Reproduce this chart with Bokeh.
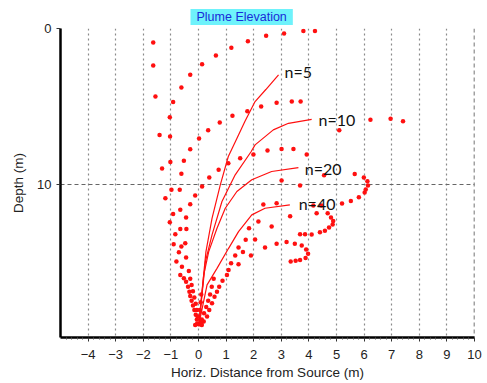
from bokeh.plotting import figure
from bokeh.models import ColumnDataSource, FixedTicker, Span, Range1d
from bokeh.core.properties import value
from bokeh.embed import file_html
from bokeh.resources import INLINE
import numpy as np

# ---- data ----
x_ticks = list(range(-4, 11))
y_ticks = [0, 10]

dot_x = [-1.64, -1.64, -1.56, -1.41, -1.32, -1.20, -1.04, -1.04, -0.92, -0.62, -0.30, 0.13, 0.63, 1.19,
         1.79, 2.45, 3.10, 3.80, 4.22, 0.35, 0.77, 1.23, 1.77, 2.27, 2.83, 3.38, 3.70, 6.23, 6.96, 7.41,
         5.10, -1.03, 0.02, -0.30, -0.53, -1.02, -0.62, 0.73, 0.39, 1.08, 1.51, 1.99, 2.50, 3.01, 3.44,
         3.92, 0.13, -0.98, -0.68, -0.12, -0.30, -0.66, -0.92, -0.45, -0.66, -0.44, 1.83, 4.55, 5.66,
         5.99, 6.12, 6.14, 6.06, 6.02, 5.81, 5.52, 5.20, 3.01, 3.68, 2.35, 2.83, 4.16, 4.45, 3.32, 4.28,
         4.68, 4.80, 4.88, 4.86, 4.73, 4.58, 4.40, 4.10, 3.86, 3.68, 2.17, 2.65, 2.05, 2.41, 2.83, 3.19,
         3.49, 3.74, 3.90, 3.97, 3.88, 3.68, 3.52, 3.34, 1.71, 1.45, 1.61, 1.33, 1.90, 1.18, 1.45, 1.09,
         1.03, 0.87, 0.75, 0.67, 0.58, 0.49, 0.39, 0.31, 0.19, -0.84, -0.90, -0.62, -0.48, -0.71, -0.45,
         -0.80, -0.60, -0.66, -0.53, -0.45, -0.38, -0.33, -0.30, -0.25, -0.20, -0.15, -0.10, -0.06, 0.00,
         0.05, -0.05, 0.10, 0.12, -0.12, -0.35, -0.30, -0.25, -0.20, -0.15, -0.10, -0.06, -0.03, 0.55,
         0.48, 0.42, 0.35, 0.28, 0.20, 0.12, 0.10, 0.08, 0.05]
dot_depth = [0.90, 2.37, 4.35, 6.81, 8.95, 10.85, 12.38, 5.67, 4.69, 3.77, 2.96, 2.28, 1.73, 1.23,
             0.81, 0.47, 0.32, 0.16, 0.16, 6.50, 6.01, 5.58, 5.29, 4.99, 4.75, 4.67, 4.67, 5.84, 5.77, 5.93,
             6.50, 6.91, 7.03, 7.72, 8.46, 8.54, 9.29, 9.03, 9.53, 8.61, 8.29, 8.06, 7.80, 7.70, 7.70,
             8.06, 10.10, 10.31, 10.31, 10.68, 11.23, 11.59, 11.85, 12.08, 12.81, 12.81, 12.77, 9.38, 9.30,
             9.53, 9.76, 10.04, 10.29, 10.49, 10.79, 11.03, 11.19, 9.72, 10.04, 11.25, 11.17, 11.32, 11.32, 12.00, 11.81,
             11.81, 12.08, 12.31, 12.53, 12.72, 12.92, 13.02, 13.17, 13.15, 13.15, 12.34, 12.66, 13.49, 14.00, 13.75, 13.65,
             13.75, 13.87, 14.13, 14.39, 14.67, 14.79, 14.85, 14.90, 13.51, 14.00, 14.29, 14.51, 14.51, 15.01, 15.07, 15.43,
             15.75, 16.13, 16.50, 16.82, 17.14, 17.56, 17.99, 18.41, 18.73, 13.15, 13.79, 13.94, 13.73, 14.30, 14.64,
             14.90, 15.22, 15.75, 15.97, 16.18, 16.50, 16.82, 17.10, 17.40, 17.70, 18.00, 18.30, 18.60, 18.90,
             18.90, 18.85, 18.80, 18.95, 18.95, 15.50, 16.00, 16.40, 16.80, 17.20, 17.60, 18.00, 18.40, 16.00,
             16.50, 17.00, 17.40, 17.80, 18.20, 18.60, 17.00, 17.50, 18.00]

n5_x = [0.02, 0.09, 0.27, 0.49, 0.79, 1.08, 1.39, 1.68, 2.05, 2.44, 2.90]
n5_depth = [18.86, 17.46, 14.26, 12.13, 9.99, 8.18, 7.03, 5.95, 4.67, 3.90, 2.96]
n10_x = [0.02, 0.25, 0.49, 0.85, 1.33, 1.91, 2.05, 2.71, 3.26, 4.10]
n10_depth = [18.86, 14.90, 13.19, 11.06, 9.35, 7.86, 7.44, 6.48, 6.06, 5.81]
n20_x = [0.02, 0.19, 0.37, 0.67, 0.97, 1.39, 1.93, 2.65, 3.62]
n20_depth = [18.86, 15.75, 14.26, 12.77, 11.49, 10.42, 9.67, 9.14, 8.89]
n40_x = [0.02, 0.31, 0.67, 1.09, 1.45, 1.93, 2.41, 3.31]
n40_depth = [18.86, 16.39, 15.33, 14.05, 12.98, 11.91, 11.49, 11.27]

label_text = ["n=5", "n=10", "n=20", "n=40"]
label_x = [3.12, 4.35, 3.85, 3.63]
label_depth = [2.75, 5.80, 8.95, 11.21]

RED = "#FF1010"

p = figure(frame_width=414, frame_height=309, output_backend="svg", toolbar_location=None,
           x_range=Range1d(-5, 10), y_range=Range1d(19.75, 0),
           min_border_left=60, min_border_top=28, min_border_right=8, min_border_bottom=40)
p.outline_line_color = None
p.background_fill_color = "white"

# title
p.title.text = "Plume Elevation"
p.title.align = "left"
p.title.offset = 130
p.title.text_font = "Liberation Sans"
p.title.text_font_size = "12.5px"
p.title.text_font_style = "normal"
p.title.text_color = "#1a2ad8"
p.title.background_fill_color = "#6ef2fb"
p.title.padding = (6, 1)
p.title.standoff = 7

# grids
p.xgrid.ticker = FixedTicker(ticks=list(range(-4, 10)))
p.xgrid.grid_line_color = "#8a8a8a"
p.xgrid.grid_line_dash = "2 3"
p.xgrid.grid_line_width = 1.2
p.ygrid.ticker = FixedTicker(ticks=y_ticks)
p.ygrid.grid_line_color = "#666666"
p.ygrid.grid_line_dash = "4 3"
p.ygrid.grid_line_width = 1.2
p.add_layout(Span(location=10, dimension="height", line_color="#444444", line_dash="4 3", line_width=1.5))

# axes
minor = [v for v in np.arange(-5, 10.001, 0.2) if abs(v - round(v)) > 1e-6]
p.xaxis.ticker = FixedTicker(ticks=x_ticks, minor_ticks=minor)
p.yaxis.ticker = FixedTicker(ticks=y_ticks)
for ax in (p.xaxis[0], p.yaxis[0]):
    ax.axis_line_width = 2.5
    ax.axis_line_color = "black"
    ax.major_tick_line_color = "#333333"
    ax.minor_tick_line_color = "#555555"
    ax.major_tick_out = 4
    ax.major_tick_in = 0
    ax.minor_tick_out = 2
    ax.minor_tick_in = 0
    ax.major_label_text_font = "Liberation Sans"
    ax.major_label_text_font_size = "13px"
    ax.major_label_text_color = "#222222"
    ax.axis_label_text_font = "Liberation Sans"
    ax.axis_label_text_font_size = "13.5px"
    ax.axis_label_text_font_style = "normal"
    ax.axis_label_text_color = "#222222"
p.xaxis.axis_label = "Horiz. Distance from Source (m)"
p.yaxis.axis_label = "Depth (m)"
p.xaxis.major_label_standoff = 8
p.xaxis.axis_label_standoff = 3
p.yaxis.major_label_standoff = 5
p.yaxis.axis_label_standoff = 8

# data
src = ColumnDataSource(dict(x=dot_x, y=dot_depth))
p.scatter("x", "y", source=src, size=4.5, fill_color=RED, line_color=None)
for xs, ys in ((n5_x, n5_depth), (n10_x, n10_depth), (n20_x, n20_depth), (n40_x, n40_depth)):
    p.line(xs, ys, line_color=RED, line_width=1.2)

lsrc = ColumnDataSource(dict(x=label_x, y=label_depth, t=label_text))
p.text("x", "y", text="t", source=lsrc, text_font=value("Lato"), text_font_size="16px",
       text_color="#111111", text_align="left", text_baseline="middle")

open("out.html", "w").write(file_html(p, INLINE))
